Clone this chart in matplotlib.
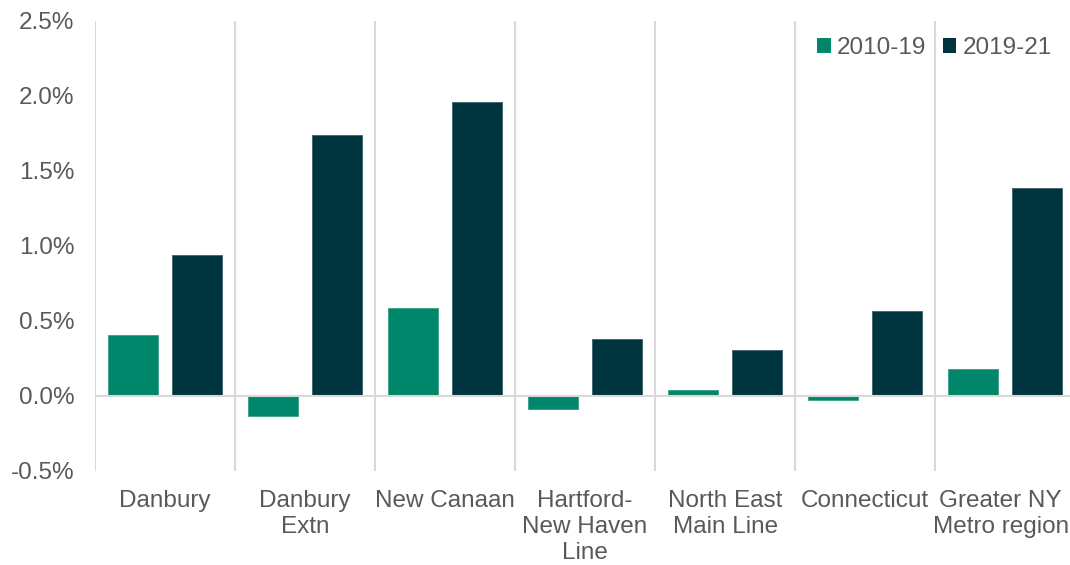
import numpy as np
import matplotlib.pyplot as plt
from matplotlib.patches import Patch
from matplotlib.ticker import FuncFormatter
from matplotlib.transforms import ScaledTranslation

plt.rcParams['font.family'] = ['Liberation Sans', 'DejaVu Sans']

# Annual growth by line / region (%)
categories = ['Danbury', 'Danbury\nExtn', 'New Canaan', 'Hartford-\nNew Haven\nLine',
              'North East\nMain Line', 'Connecticut', 'Greater NY\nMetro region']
growth_2010_19 = [0.405, -0.138, 0.583, -0.091, 0.038, -0.027, 0.178]
growth_2019_21 = [0.939, 1.738, 1.961, 0.378, 0.305, 0.567, 1.386]
series_labels = ['2010-19', '2019-21']

green = '#00866A'
dark = '#00343F'
grey_text = '#595959'
grid_grey = '#D9D9D9'

fig = plt.figure(figsize=(10.7, 5.65), dpi=100)
ax = fig.add_axes([0.0888, 0.167, 0.916, 0.796])

ind = np.arange(len(categories))
width = 0.36
off = 0.229

ax.bar(ind - off, growth_2010_19, width, color=green, edgecolor='#3a9c86', linewidth=0.6, zorder=2)
ax.bar(ind + off, growth_2019_21, width, color=dark, edgecolor='#3d6068', linewidth=0.6, zorder=2)

# category separators and zero line
for i in range(len(categories)):
    ax.axvline(i - 0.5, color=grid_grey, linewidth=1.5, zorder=1)
ax.axhline(0, color=grid_grey, linewidth=1.5, zorder=3)

ax.set_xlim(-0.5, len(categories) - 0.5)
ax.set_ylim(-0.5, 2.5)
ax.set_yticks(np.arange(-0.5, 2.51, 0.5))
ax.yaxis.set_major_formatter(FuncFormatter(lambda v, p: f'{v:.1f}%'))

ax.set_xticks(ind)
ax.set_xticklabels(categories, linespacing=1.24)

for s in ax.spines.values():
    s.set_visible(False)

ax.tick_params(axis='y', length=0, pad=15, labelsize=17.5, labelcolor=grey_text)
ax.tick_params(axis='x', length=0, pad=14, labelsize=17.5, labelcolor=grey_text)

# keep the last label inside the figure edge
last = ax.get_xticklabels()[-1]
last.set_transform(last.get_transform() + ScaledTranslation(-0.045, 0, fig.dpi_scale_trans))

legend_patches = [
    Patch(facecolor=green, label=series_labels[0]),
    Patch(facecolor=dark, label=series_labels[1]),
]
leg = ax.legend(
    handles=legend_patches, loc='upper right', bbox_to_anchor=(0.986, 0.985),
    ncol=2, frameon=False, fontsize=17.5,
    handlelength=0.55, handleheight=0.55, handletextpad=0.25,
    columnspacing=0.69, borderaxespad=0.0,
)
for t in leg.get_texts():
    t.set_color(grey_text)

plt.savefig('out.png', dpi=100)
